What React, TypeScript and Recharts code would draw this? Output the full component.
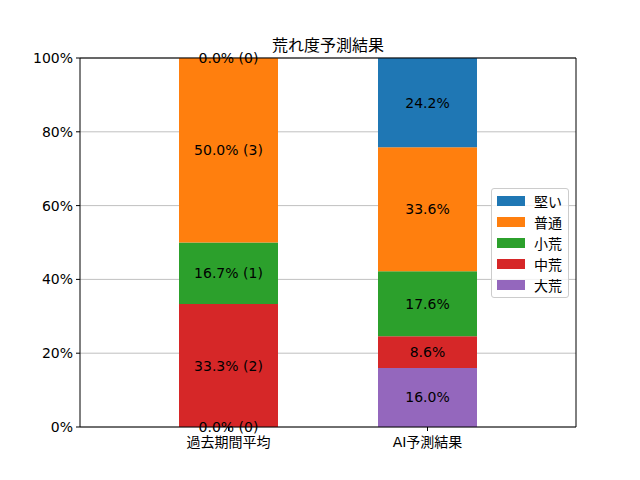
import { BarChart, Bar, XAxis, YAxis, CartesianGrid, ReferenceDot } from 'recharts';

const categories = ['過去期間平均', 'AI予測結果'];
const seriesNames = ['大荒', '中荒', '小荒', '普通', '堅い'];
const seriesColors = ['#9467bd', '#d62728', '#2ca02c', '#ff7f0e', '#1f77b4'];
const daiare = [0.0, 16.0];
const chuare = [33.3, 8.6];
const shoare = [16.7, 17.6];
const futsu = [50.0, 33.6];
const katai = [0.0, 24.2];
// counts only shown for the past-period bar
const pastCounts = [0, 2, 1, 3, 0];
const yTicks = [0, 20, 40, 60, 80, 100];

const FONT = '"DejaVu Sans", "Noto Sans CJK JP", sans-serif';

const seriesValues = [daiare, chuare, shoare, futsu, katai];

const data = categories.map((name, i) => {
  const row: Record<string, string | number> = { name };
  seriesNames.forEach((s, k) => {
    row[s] = seriesValues[k][i];
  });
  return row;
});

// segment labels placed at the middle of each stacked piece
const segLabels: { x: string; y: number; text: string }[] = [];
categories.forEach((c, i) => {
  let base = 0;
  seriesValues.forEach((vals, k) => {
    const v = vals[i];
    segLabels.push({
      x: c,
      y: base + v / 2,
      text: `${v.toFixed(1)}%` + (i === 0 ? ` (${pastCounts[k]})` : ''),
    });
    base += v;
  });
});

const Legend = () => (
  <div
    style={{
      position: 'absolute',
      left: 491,
      top: 188,
      border: '1px solid #cccccc',
      borderRadius: 3,
      background: 'rgba(255,255,255,0.8)',
      padding: '1px 6px 2px 5px',
      fontFamily: FONT,
      fontSize: 14,
    }}
  >
    {[...seriesNames].reverse().map((s, i) => (
      <div key={s} style={{ display: 'flex', alignItems: 'center', height: 21 }}>
        <div style={{ width: 28, height: 10, background: seriesColors[seriesNames.length - 1 - i], marginRight: 9 }} />
        <span>{s}</span>
      </div>
    ))}
  </div>
);

export default function App() {
  return (
    <div style={{ position: 'absolute', left: 0, top: 0, width: 640, height: 480, background: '#fff' }}>
      <div
        style={{
          position: 'absolute',
          left: 80,
          width: 496,
          top: 32,
          textAlign: 'center',
          fontFamily: FONT,
          fontSize: 16,
        }}
      >
        荒れ度予測結果
      </div>
      <BarChart width={640} height={480} data={data} margin={{ top: 57, right: 63, bottom: 0, left: 0 }}>
        <CartesianGrid horizontal vertical={false} stroke="#b0b0b0" strokeWidth={0.8} />
        <XAxis
          dataKey="name"
          height={53}
          padding={{ left: 49, right: 49 }}
          tickSize={4}
          tickMargin={6}
          stroke="#000"
          tick={{ fill: '#000', fontSize: 14, fontFamily: FONT }}
        />
        <XAxis xAxisId="top" dataKey="name" orientation="top" height={1} tick={false} tickLine={false} stroke="#000" />
        <YAxis
          width={80}
          domain={[0, 100]}
          ticks={yTicks}
          tickFormatter={(v: number) => `${v}%`}
          tickSize={4}
          tickMargin={3}
          stroke="#000"
          tick={{ fill: '#000', fontSize: 14, fontFamily: FONT }}
        />
        <YAxis yAxisId="right" orientation="right" width={1} domain={[0, 100]} tick={false} tickLine={false} stroke="#000" />
        {seriesNames.map((s, k) => (
          <Bar key={s} dataKey={s} stackId="a" fill={seriesColors[k]} barSize={99} isAnimationActive={false} />
        ))}
        {segLabels.map((l, j) => (
          <ReferenceDot
            key={j}
            x={l.x}
            y={l.y}
            ifOverflow="visible"
            shape={(p: any) => (
              <text
                x={p.cx}
                y={p.cy}
                textAnchor="middle"
                dominantBaseline="central"
                fontSize={14}
                fill="#000"
                fontFamily={FONT}
              >
                {l.text}
              </text>
            )}
          />
        ))}
      </BarChart>
      <Legend />
    </div>
  );
}
